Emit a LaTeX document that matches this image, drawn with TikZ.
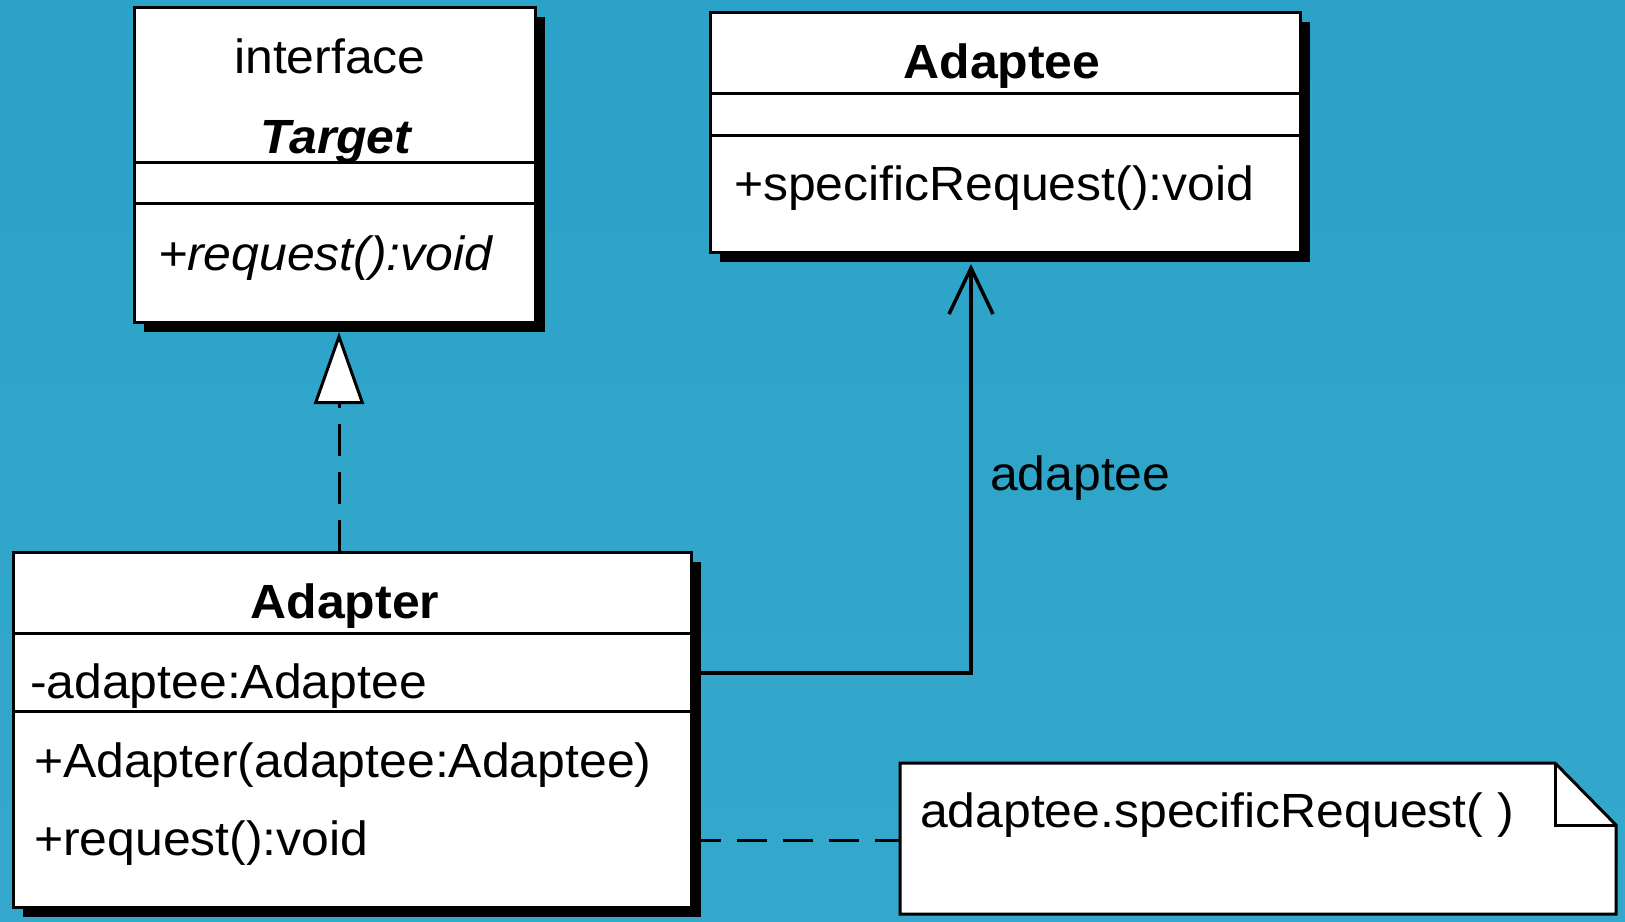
\documentclass[tikz,border=0pt]{standalone}
\usepackage{fontspec}
\setmainfont[FakeStretch=1.04]{Liberation Sans}
\usetikzlibrary{arrows.meta,calc,shadows}
\definecolor{bgtop}{RGB}{44,162,200}
\definecolor{bgmid}{RGB}{62,176,208}
\definecolor{bgbot}{RGB}{52,168,204}
\tikzset{
  umlbox/.style={draw=black, fill=white, line width=3pt, rectangle,
    inner sep=0pt, outer sep=0pt, anchor=north west,
    drop shadow={shadow xshift=10pt, shadow yshift=-10pt, fill=black, opacity=1}},
  divider/.style={line width=3pt},
  umltext/.style={inner sep=0pt, outer sep=0pt, font=\fontsize{48pt}{56pt}\selectfont},
  umltitle/.style={umltext, font=\fontsize{48pt}{56pt}\selectfont\bfseries},
  realize/.style={line width=3pt, dash pattern=on 32pt off 16pt,
    -{Triangle[fill=white, length=72pt, width=50pt]}},
  assoc/.style={line width=3.5pt, -{Straight Barb[length=46pt, width=44pt]}},
  anchorline/.style={line width=3pt, dash pattern=on 30pt off 16pt},
}
\begin{document}
\begin{tikzpicture}[x=1pt, y=-1pt]
  % backdrop
  \path[use as bounding box, top color=bgtop, middle color=bgmid, bottom color=bgbot]
    (0,0) rectangle (1625,921);

  % class boxes
  \node[umlbox, minimum width=401pt, minimum height=315pt] (target) at (134,7) {};
  \node[umlbox, minimum width=590pt, minimum height=240pt] (adaptee) at (710,12) {};
  \node[umlbox, minimum width=678pt, minimum height=355pt] (adapter) at (13,552) {};

  % compartments
  \draw[divider] (target.west |- 0,162) -- (target.east |- 0,162);
  \draw[divider] (target.west |- 0,203) -- (target.east |- 0,203);
  \draw[divider] (adaptee.west |- 0,93) -- (adaptee.east |- 0,93);
  \draw[divider] (adaptee.west |- 0,135) -- (adaptee.east |- 0,135);
  \draw[divider] (adapter.west |- 0,633) -- (adapter.east |- 0,633);
  \draw[divider] (adapter.west |- 0,711) -- (adapter.east |- 0,711);

  % Target
  \node[umltext, anchor=base] (tgtst) at (330,73) {interface};
  \node[umltitle, anchor=base] (tgtname) at (336,153) {\itshape Target};
  \node[umltext, anchor=base west] (tgtop) at (158,270) {\itshape +request():void};

  % Adaptee
  \node[umltitle, anchor=base] (adpname) at (1002,78) {Adaptee};
  \node[umltext, anchor=base west] (adpop) at (734,200) {+specificRequest():void};

  % Adapter
  \node[umltitle, anchor=base] (adrname) at (345,618) {Adapter};
  \node[umltext, anchor=base west] (adrattr) at (30,698) {-adaptee:Adaptee};
  \node[umltext, anchor=base west] (adrctor) at (34,777) {+Adapter(adaptee:Adaptee)};
  \node[umltext, anchor=base west] (adrop) at (34,855) {+request():void};

  % note with folded corner
  \node[inner sep=0pt, outer sep=0pt, minimum width=716pt, minimum height=151pt,
        anchor=north west] (note) at (900,763) {};
  \fill[black, shift={(8,8)}]
    (note.north west) -- ($(note.north east)+(-61,0)$) -- ($(note.north east)+(0,62)$)
    -- (note.south east) -- (note.south west) -- cycle;
  \draw[line width=3pt, fill=white, line join=miter]
    (note.north west) -- ($(note.north east)+(-61,0)$) -- ($(note.north east)+(0,62)$)
    -- (note.south east) -- (note.south west) -- cycle;
  \draw[line width=3pt] ($(note.north east)+(-61,0)$) |- ($(note.north east)+(0,62)$);
  \node[umltext, anchor=base west] (notetext) at (920,827) {adaptee.specificRequest( )};

  % Adapter realizes Target
  \coordinate (tgtpt) at ($(target.south)+(4.5,10)$);
  \draw[realize] (adapter.north -| tgtpt) -- (tgtpt);

  % Adapter holds an Adaptee
  \coordinate (adppt) at ($(adaptee.south)+(-34,12)$);
  \draw[assoc] (adapter.east |- 0,673) -| (adppt);
  \node[umltext, anchor=base west] (assoclabel) at (990,490) {adaptee};

  % note attached to request()
  \draw[anchorline] (adapter.east |- 0,840) -- (note.west |- 0,840);
\end{tikzpicture}
\end{document}
